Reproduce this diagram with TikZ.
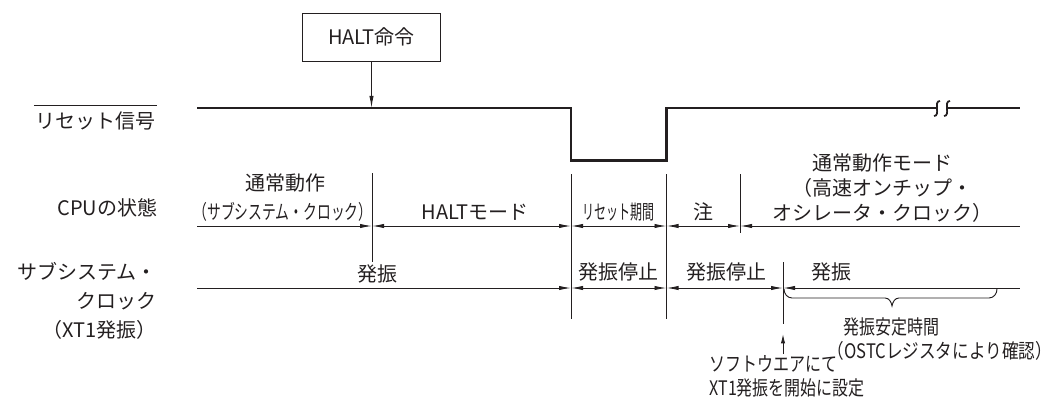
\documentclass[tikz,border=0pt]{standalone}
\usepackage{fontspec}
\setmainfont{Noto Sans CJK JP}
\usetikzlibrary{arrows.meta, calc}
\definecolor{ink}{RGB}{35,31,32}
\newcommand{\squeeze}[2]{\scalebox{#1}[1]{#2}}

\begin{document}
\begin{tikzpicture}[
  x=0.75pt, y=0.75pt,
  txt/.style={font=\fontsize{15}{19}\selectfont, text=ink, inner sep=1pt},
  box/.style={txt, draw=ink, line width=0.7pt, minimum width=103pt,
              minimum height=36pt},
  sig/.style={draw=ink, line width=1.6pt},
  tick/.style={draw=ink, line width=0.7pt},
  ptr/.style={tick, -{Latex[length=9pt,width=3.2pt]}},
  dimr/.style={tick, -{Latex[length=9pt,width=3.2pt]}},
  diml/.style={tick, {Latex[length=9pt,width=3.2pt]}-},
  dimb/.style={tick, {Latex[length=9pt,width=3.2pt]}-{Latex[length=9pt,width=3.2pt]}}]

  \useasboundingbox (0,0) rectangle (1059,-399);

  % row names
  \node[txt, anchor=east] (rstlab) at (157,-121) {リセット信号};
  \node[txt, anchor=east] (cpulab) at (159,-208) {CPUの状態};
  \node[txt, anchor=east, align=right, font=\fontsize{15}{21.5}\selectfont]
    (sublab) at (158,-301) {サブシステム・\\クロック\\（XT1発振）};
  \coordinate (ovl) at (0,-105.5);
  \draw[tick] (rstlab.west |- ovl) -- (rstlab.east |- ovl);

  % reset signal
  \coordinate (r0)   at (197,-108);
  \coordinate (rdn)  at (571,-160.5);
  \coordinate (rup)  at (666.5,-108);
  \coordinate (rbk)  at (937,-108);
  \coordinate (rbk2) at (947,-108);
  \coordinate (r1)   at (1020,-108);
  \draw[sig] (r0) -| (rdn) -| (rup) -- (rbk);
  \draw[sig] (rbk2) -- (r1);
  \foreach \bx in {937,947}
    \draw[sig, line width=1.3pt] (\bx+3,-101) .. controls (\bx-4,-101) and (\bx+4,-116) .. (\bx-3,-116);

  \node[box] (halt) at (371.5,-37) {HALT命令};
  \draw[ptr] (halt.south) -- (halt.south |- r0);

  % marks
  \foreach \x/\ya/\yb in {372/-173/-262, 571/-174/-319, 666.5/-174/-319,
                          740/-174/-233, 783/-262/-324}
    \draw[tick] (\x,\ya) -- (\x,\yb);

  % CPU row
  \coordinate (c0) at (197,-226);
  \coordinate (c1) at (372,-226);
  \coordinate (c2) at (571,-226);
  \coordinate (c3) at (666.5,-226);
  \coordinate (c4) at (740,-226);
  \coordinate (c5) at (1020,-226);
  \draw[dimr] (c0) -- (c1);
  \draw[dimb] (c1) -- (c2);
  \draw[dimb] (c2) -- (c3);
  \draw[dimb] (c3) -- (c4);
  \draw[diml] (c4) -- (c5);

  \node[txt] (nor)    at (285,-183) {通常動作};
  \node[txt] (norsub) at (283,-212) {\squeeze{0.69}{（サブシステム・クロック）}};
  \node[txt] (haltm)  at (475,-212) {HALTモード};
  \node[txt] (rstp)   at (618,-212) {\squeeze{0.6}{リセット期間}};
  \node[txt] (note)   at (703,-212) {注};
  \node[txt, align=center, font=\fontsize{15}{18.75}\selectfont] (fast) at (882,-188)
    {通常動作モード\\（高速オンチップ・\\オシレータ・クロック）};

  % subsystem clock row
  \coordinate (s0) at (197,-288);
  \coordinate (s2) at (571,-288);
  \coordinate (s3) at (666.5,-288);
  \coordinate (s5) at (783,-288);
  \coordinate (s6) at (1020,-288);
  \draw[dimr] (s0) -- (s2);
  \draw[dimb] (s2) -- (s3);
  \draw[dimb] (s3) -- (s5);
  \draw[diml] (s5) -- (s6);

  \node[txt] (osc1)  at (377,-274) {発振};
  \node[txt] (stop1) at (618,-272) {発振停止};
  \node[txt] (stop2) at (726,-272) {発振停止};
  \node[txt] (osc2)  at (831,-272) {発振};

  % stabilisation brace
  \coordinate (bl) at (784,-289);
  \coordinate (br) at (997,-289);
  \draw[tick] (bl) to[out=-90,in=180] (792,-298) -- (885,-298)
    to[out=0,in=100] (892,-306) to[out=80,in=180] (899,-298) -- (989,-298)
    to[out=0,in=-90] (br);
  \node[txt] (stab) at (891,-327) {\squeeze{0.8}{発振安定時間}};
  \node[txt, anchor=west] (ostc) at (826,-351) {\squeeze{0.83}{（OSTCレジスタにより確認）}};

  \node[txt, anchor=west, align=left, font=\fontsize{15}{18}\selectfont] (swlab) at (708,-376.5)
    {\squeeze{0.8}{ソフトウエアにて}\\\squeeze{0.8}{XT1発振を開始に設定}};
  \coordinate (swtip) at (783,-334);
  \draw[tick, -{Latex[length=7pt,width=3.2pt]}] (swlab.north -| swtip) -- (swtip);
\end{tikzpicture}
\end{document}
